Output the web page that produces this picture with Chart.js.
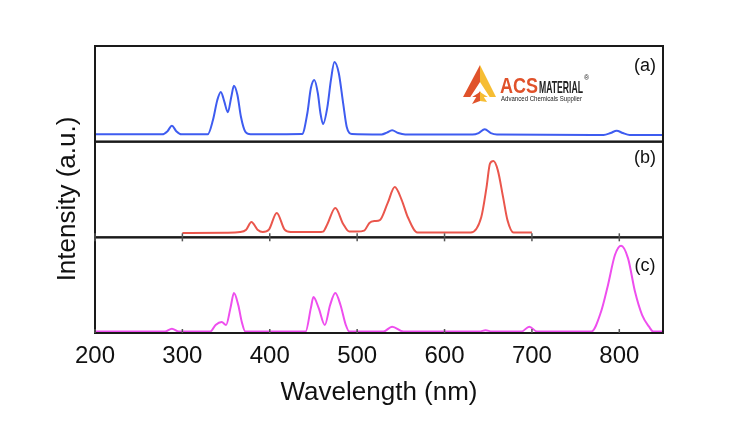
<!DOCTYPE html>
<html>
<head>
<meta charset="utf-8">
<script src="https://cdn.jsdelivr.net/npm/chart.js@4.4.0/dist/chart.umd.min.js"></script>
<style>
  html, body { margin: 0; padding: 0; background: #fff; }
</style>
</head>
<body>
<canvas id="myChart" width="740" height="448"></canvas>
<script>
"use strict";

// Spectrum (a) - blue
const wlA = [200, 277, 283, 288, 293, 299, 329, 335, 340, 344, 348, 352, 356, 359, 363, 367, 372, 378,
  437, 443, 447, 451, 455, 458, 461, 466, 470, 474, 479, 484, 488, 494, 528, 534, 540, 547, 555,
  632, 639, 646, 653, 660, 782, 790, 797, 804, 812, 850];
const intA = [7.7, 7.7, 11, 16.7, 11, 7.7, 7.7, 22.7, 43.6, 52, 41.8, 30.7, 47, 58.5, 48.8, 26, 10.4, 7.7,
  8, 29.7, 55.8, 64.5, 50.6, 29.7, 18.5, 36.6, 64.5, 83.3, 71.5, 40, 15.7, 8, 7.5, 9.5, 12, 9, 7.5,
  7.5, 9, 13, 9, 7.5, 7, 9, 11.5, 9, 7, 7];

// Spectrum (b) - red
const wlB = [300, 350, 366, 373, 379, 386, 392, 399, 408, 417, 424, 455, 461, 466, 475, 484, 491,
  500, 508, 514, 520, 526, 535, 543, 551, 558, 569, 630, 642, 648, 652, 656, 661, 667, 672, 679, 700];
const intB = [4.5, 4.8, 5.5, 8, 16, 8, 5.5, 8, 25.4, 8, 5.5, 5.5, 6, 14, 30.6, 14, 6,
  6, 7, 15, 17, 18, 36, 52.6, 39, 21, 5, 5, 21, 52, 77, 79.7, 70, 42, 18, 5, 5];

// Spectrum (c) - magenta
const wlC = [200, 280, 288, 296, 332, 338, 345, 350, 355, 359, 364, 368, 372, 441, 447, 450, 456, 463,
  469, 475, 481, 487, 491, 530, 540, 553, 640, 647, 654, 688, 697, 706, 768, 779, 787, 795, 802,
  810, 818, 826, 834, 839, 850];
const intC = [1.5, 1.5, 4.5, 1.5, 1.5, 8.4, 11.5, 8.4, 26, 41.8, 29, 11.5, 1.5, 1.5, 26, 37.6, 26, 8.4,
  29, 41.8, 29, 8.4, 1.5, 1.5, 6.6, 1.5, 1.5, 3, 1.5, 1.5, 6.6, 1.5, 1.5, 22, 50, 81.5, 91.2,
  78, 43, 19, 6.6, 1.5, 1.5];

const panelLabels = ["(a)", "(b)", "(c)"];
const xLabel = "Wavelength (nm)";
const yLabel = "Intensity (a.u.)";

const toPoints = (xs, ys) => xs.map((x, i) => ({ x: x, y: ys[i] }));

const panelAxis = () => ({
  type: "linear",
  position: "left",
  stack: "panels",
  stackWeight: 1,
  min: 0,
  max: 100,
  ticks: { display: false },
  grid: { display: false, drawTicks: false },
  border: { display: false },
});

// Frames, inner ticks, axis label, panel letters and the logo
const decorations = {
  id: "decorations",
  afterDraw(chart) {
    const ctx = chart.ctx;
    const { left, right } = chart.chartArea;
    const xs = chart.scales.x;
    const ids = ["ya", "yb", "yc"];
    ctx.save();

    // panel boxes
    ctx.strokeStyle = "#1a1a1a";
    ctx.lineWidth = 2;
    ids.forEach((id) => {
      const s = chart.scales[id];
      ctx.strokeRect(left, s.top, right - left, s.bottom - s.top);
    });

    // small inward ticks on the lower panels
    ctx.strokeStyle = "#555";
    ctx.lineWidth = 1.5;
    xs.ticks.forEach((t) => {
      const px = xs.getPixelForValue(t.value);
      ["yb", "yc"].forEach((id) => {
        const s = chart.scales[id];
        ctx.beginPath();
        ctx.moveTo(px, s.bottom);
        ctx.lineTo(px, s.bottom - 4);
        ctx.stroke();
      });
      const c = chart.scales.yc;
      ctx.beginPath();
      ctx.moveTo(px, c.top);
      ctx.lineTo(px, c.top + 4);
      ctx.stroke();
    });

    // y axis label
    ctx.fillStyle = "#111";
    ctx.font = "26px 'Liberation Sans', Arial, sans-serif";
    ctx.textAlign = "center";
    ctx.textBaseline = "middle";
    ctx.save();
    ctx.translate(68, 199);
    ctx.rotate(-Math.PI / 2);
    ctx.fillText(yLabel, 0, 0);
    ctx.restore();

    // panel letters
    ctx.font = "18px 'Liberation Sans', Arial, sans-serif";
    const offs = [20, 16, 29];
    ids.forEach((id, i) => {
      ctx.fillText(panelLabels[i], right - 18, chart.scales[id].top + offs[i]);
    });

    // ACS Material logo
    ctx.fillStyle = "#e0522b";
    ctx.beginPath();
    ctx.moveTo(480, 65); ctx.lineTo(463, 97); ctx.lineTo(480, 97); ctx.closePath();
    ctx.fill();
    ctx.fillStyle = "#f6bd33";
    ctx.beginPath();
    ctx.moveTo(480, 65); ctx.lineTo(496, 97); ctx.lineTo(480, 97); ctx.closePath();
    ctx.fill();
    ctx.fillStyle = "#fff";
    ctx.beginPath();
    ctx.moveTo(480, 82); ctx.lineTo(469, 99); ctx.lineTo(480, 92); ctx.lineTo(491, 99); ctx.closePath();
    ctx.fill();
    ctx.fillStyle = "#e0522b";
    ctx.beginPath();
    ctx.moveTo(480, 91); ctx.lineTo(472, 104); ctx.lineTo(480, 101); ctx.closePath();
    ctx.fill();
    ctx.fillStyle = "#f6bd33";
    ctx.beginPath();
    ctx.moveTo(480, 91); ctx.lineTo(487, 102); ctx.lineTo(480, 101); ctx.closePath();
    ctx.fill();

    ctx.textAlign = "left";
    ctx.textBaseline = "alphabetic";
    ctx.fillStyle = "#e0522b";
    ctx.font = "bold 22px 'Liberation Sans', Arial, sans-serif";
    ctx.fillText("ACS", 500, 93, 38);
    ctx.fillStyle = "#222";
    ctx.font = "bold 17px 'Liberation Sans', Arial, sans-serif";
    ctx.fillText("MATERIAL", 539, 93, 44);
    ctx.font = "7px 'Liberation Sans', Arial, sans-serif";
    ctx.fillText("\u00ae", 584, 80);
    ctx.fillText("Advanced Chemicals Supplier", 501, 101, 81);

    ctx.restore();
  },
};

const ctx = document.getElementById("myChart").getContext("2d");
const myChart = new Chart(ctx, {
  type: "line",
  data: {
    datasets: [
      { data: toPoints(wlA, intA), yAxisID: "ya", borderColor: "rgb(62, 92, 240)" },
      { data: toPoints(wlB, intB), yAxisID: "yb", borderColor: "rgb(234, 86, 76)" },
      { data: toPoints(wlC, intC), yAxisID: "yc", borderColor: "rgb(238, 78, 238)" },
    ],
  },
  options: {
    responsive: false,
    animation: false,
    layout: { padding: { left: 95, right: 77, top: 46, bottom: 0 } },
    elements: {
      point: { radius: 0 },
      line: { borderWidth: 2, cubicInterpolationMode: "monotone" },
    },
    plugins: {
      legend: { display: false },
      tooltip: { enabled: false },
    },
    scales: {
      x: {
        type: "linear",
        min: 200,
        max: 850,
        afterFit: (s) => { s.height = 115; },
        grid: { display: false, drawTicks: false },
        border: { display: false },
        ticks: {
          stepSize: 100,
          includeBounds: false,
          padding: 9,
          color: "#111",
          font: { family: "'Liberation Sans', Arial, sans-serif", size: 24 },
        },
        title: {
          display: true,
          text: xLabel,
          color: "#111",
          font: { family: "'Liberation Sans', Arial, sans-serif", size: 26 },
          padding: { top: 0, bottom: 40 },
        },
      },
      // stacked panels: the last one listed ends up on top
      yc: panelAxis(),
      yb: panelAxis(),
      ya: panelAxis(),
    },
  },
  plugins: [decorations],
});
</script>
</body>
</html>
